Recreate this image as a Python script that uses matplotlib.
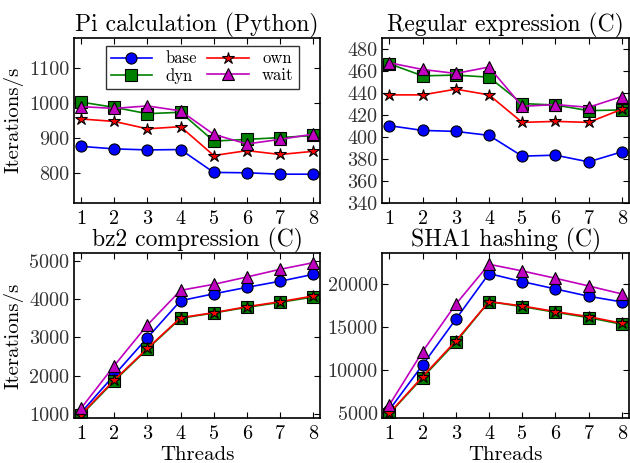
import matplotlib
matplotlib.use('Agg')
import matplotlib.pyplot as plt
import numpy as np

plt.rcParams['font.family'] = 'cmr10'
plt.rcParams['mathtext.fontset'] = 'cm'
plt.rcParams['axes.unicode_minus'] = False
plt.rcParams['xtick.direction'] = 'in'
plt.rcParams['ytick.direction'] = 'in'
plt.rcParams['xtick.top'] = True
plt.rcParams['ytick.right'] = True
plt.rcParams['xtick.major.size'] = 4
plt.rcParams['ytick.major.size'] = 4

threads = [1, 2, 3, 4, 5, 6, 7, 8]
series = ['base', 'dyn', 'own', 'wait']

# Pi calculation (Python)
pi_base = [876, 869, 866, 867, 802, 801, 797, 797]
pi_dyn = [1002, 987, 969, 973, 891, 896, 901, 907]
pi_own = [954, 947, 926, 932, 850, 864, 853, 862]
pi_wait = [989, 984, 991, 977, 910, 883, 896, 911]

# Regular expression (C)
re_base = [410, 405.7, 404.8, 401.2, 382.3, 383.2, 377.1, 386.2]
re_dyn = [466.3, 455.3, 456, 454.1, 430.1, 428.8, 423.7, 424.3]
re_own = [438, 438, 443.2, 438, 413, 413.9, 413, 424.9]
re_wait = [467.2, 461.1, 457.5, 463.3, 427.6, 429.2, 426.7, 436.5]

# bz2 compression (C)
bz_base = [1030, 2010, 2990, 3960, 4140, 4310, 4470, 4650]
bz_dyn = [960, 1856, 2694, 3498, 3640, 3786, 3917, 4057]
bz_own = [980, 1880, 2712, 3515, 3646, 3803, 3934, 4083]
bz_wait = [1140, 2258, 3323, 4231, 4389, 4581, 4782, 4956]

# SHA1 hashing (C)
sha_base = [5400, 10594, 15875, 21157, 20231, 19383, 18535, 17880]
sha_dyn = [4950, 9129, 13215, 17918, 17340, 16685, 16068, 15297]
sha_own = [5000, 9244, 13369, 17918, 17417, 16762, 16183, 15412]
sha_wait = [5970, 12136, 17610, 22236, 21465, 20617, 19730, 18805]

styles = {
    'base': dict(color='b', marker='o', markersize=8),
    'dyn': dict(color='g', marker='s', markersize=8),
    'own': dict(color='r', marker='*', markersize=9),
    'wait': dict(color='m', marker='^', markersize=9),
}

panels = [
    ("Pi calculation (Python)", [pi_base, pi_dyn, pi_own, pi_wait], (716, 1185), [800, 900, 1000, 1100]),
    ("Regular expression (C)", [re_base, re_dyn, re_own, re_wait], (340, 490), list(range(340, 481, 20))),
    ("bz2 compression (C)", [bz_base, bz_dyn, bz_own, bz_wait], (880, 5200), [1000, 2000, 3000, 4000, 5000]),
    ("SHA1 hashing (C)", [sha_base, sha_dyn, sha_own, sha_wait], (4420, 23500), [5000, 10000, 15000, 20000]),
]

fig, axes = plt.subplots(2, 2, figsize=(6.3, 4.63), dpi=100)
fig.subplots_adjust(left=0.1175, right=0.998, bottom=0.0965, top=0.9186,
                    wspace=0.252, hspace=0.307)

for ax, (title, data, ylim, yticks) in zip(axes.flat, panels):
    for name, vals in zip(series, data):
        st = styles[name]
        ax.plot(threads, vals, color=st['color'], marker=st['marker'],
                markersize=st['markersize'], markerfacecolor=st['color'],
                markeredgecolor='k', markeredgewidth=0.8, linewidth=1.2,
                label=name)
    ax.set_title(title, fontsize=17, pad=4)
    ax.set_xlim(0.79, 8.21)
    ax.set_ylim(*ylim)
    ax.set_xticks(threads)
    ax.set_yticks(yticks)
    ax.tick_params(labelsize=14.5, colors='k')
    ax.tick_params(axis='x', pad=5)
    for lab in ax.get_yticklabels():
        lab.set_color('#333333')
    for s in ax.spines.values():
        s.set_linewidth(1.2)

axes[0, 0].set_ylabel("Iterations/s", fontsize=15)
axes[1, 0].set_ylabel("Iterations/s", fontsize=15)
axes[1, 0].set_xlabel("Threads", fontsize=15, labelpad=2)
axes[1, 1].set_xlabel("Threads", fontsize=15, labelpad=2)

axes[0, 0].legend(loc='upper center', ncol=2, fontsize=12, numpoints=1,
                  frameon=True, fancybox=False, edgecolor='k',
                  handlelength=2.5, columnspacing=0.6, borderpad=0.3,
                  labelspacing=0.1, handletextpad=0.8,
                  bbox_to_anchor=(0.52, 1.0))

fig.savefig('out.png', dpi=100, facecolor='white')
